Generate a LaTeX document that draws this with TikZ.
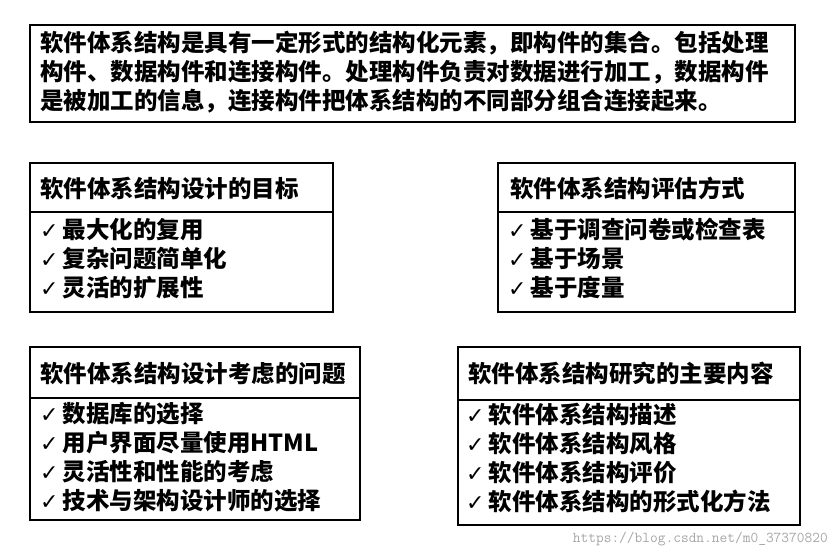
\documentclass[tikz,border=0pt]{standalone}
\usepackage{fontspec}
\newfontfamily\cjk{Noto Sans CJK SC Black}
\newfontfamily\sym{DejaVu Sans}
\usetikzlibrary{positioning}
\newcommand{\ck}{{\sym\fontsize{22}{22}\selectfont ✓}\,}

\begin{document}
\begin{tikzpicture}[x=1pt, y=-1pt,
                    every node/.style={font=\cjk\fontsize{23.5}{29}\selectfont, inner sep=0pt},
                    frame/.style={draw, line width=1.6pt}]
    \useasboundingbox (0,0) rectangle (832,554);
    % Top box
    \draw[frame] (30,25) rectangle (795,122);
    \node[anchor=north west, align=left] (intro) at (40,31) {软件体系结构是具有一定形式的结构化元素，即构件的集合。包括处理\\构件、数据构件和连接构件。处理构件负责对数据进行加工，数据构件\\是被加工的信息，连接构件把体系结构的不同部分组合连接起来。};
    % Left top
    \draw[frame] (30,163) rectangle (333,212);
    \draw[frame] (30,212) rectangle (333,312);
    \node[anchor=west] (goal) at (40,188) {软件体系结构设计的目标};
    \node[anchor=north west, align=left] (goallist) at (40,218) {\ck 最大化的复用\\\ck 复杂问题简单化\\\ck 灵活的扩展性};
    % Right top
    \draw[frame] (498,163) rectangle (795,212);
    \draw[frame] (498,212) rectangle (795,312);
    \node[anchor=west] (eval) at (510,188) {软件体系结构评估方式};
    \node[anchor=north west, align=left] (evallist) at (508,218) {\ck 基于调查问卷或检查表\\\ck 基于场景\\\ck 基于度量};
    % Left bottom
    \draw[frame] (30,347) rectangle (360,398);
    \draw[frame] (30,398) rectangle (360,520);
    \node[anchor=west] (issue) at (40,373) {软件体系结构设计考虑的问题};
    \node[anchor=north west, align=left] (issuelist) at (40,402) {\ck 数据库的选择\\\ck 用户界面尽量使用HTML\\\ck 灵活性和性能的考虑\\\ck 技术与架构设计师的选择};
    % Right bottom
    \draw[frame] (458,347) rectangle (800,400);
    \draw[frame] (458,400) rectangle (800,525);
    \node[anchor=west] (topic) at (468,374) {软件体系结构研究的主要内容};
    \node[anchor=north west, align=left] (topiclist) at (466,403) {\ck 软件体系结构描述\\\ck 软件体系结构风格\\\ck 软件体系结构评价\\\ck 软件体系结构的形式化方法};
    % Watermark
    \node[anchor=south east, font=\ttfamily\fontsize{15}{15}\selectfont, text=black!35] (mark) at (828,546) {https://blog.csdn.net/m0\_37370820};
\end{tikzpicture}
\end{document}
